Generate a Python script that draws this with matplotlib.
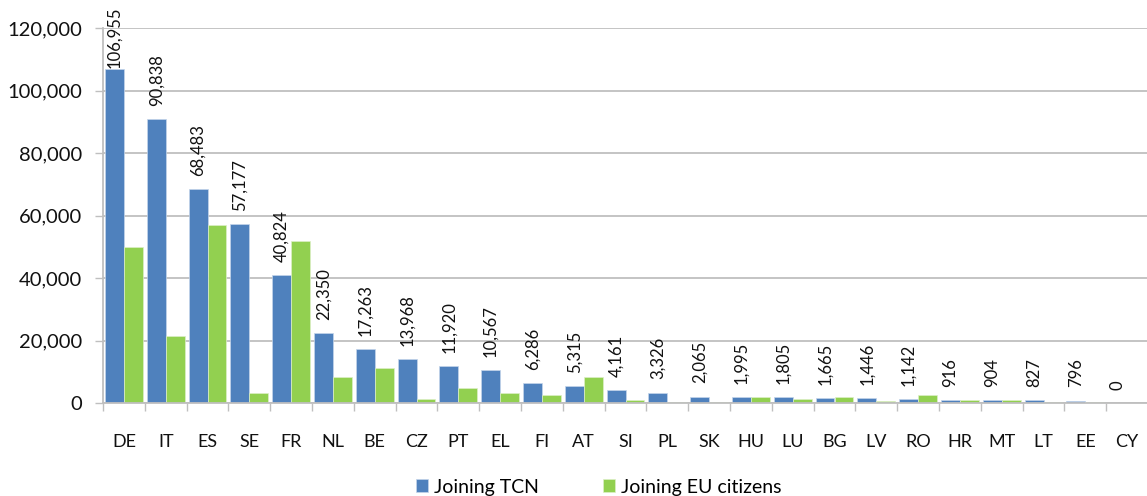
import matplotlib
matplotlib.use('Agg')
import matplotlib.pyplot as plt
import numpy as np
from matplotlib.ticker import FuncFormatter, FixedLocator

countries = ['DE', 'IT', 'ES', 'SE', 'FR', 'NL', 'BE', 'CZ', 'PT', 'EL', 'FI', 'AT', 'SI',
             'PL', 'SK', 'HU', 'LU', 'BG', 'LV', 'RO', 'HR', 'MT', 'LT', 'EE', 'CY']
joining_tcn = [106955, 90838, 68483, 57177, 40824, 22350, 17263, 13968, 11920, 10567, 6286, 5315, 4161,
               3326, 2065, 1995, 1805, 1665, 1446, 1142, 916, 904, 827, 796, 0]
# (no labels for this series)
joining_eu = [50000, 21500, 57000, 3200, 52000, 8400, 11300, 1300, 4900, 3100, 2450, 8400, 1000,
              300, 300, 1900, 1300, 1900, 700, 2450, 900, 900, 350, 350, 0]

BLUE = '#4F81BD'
GREEN = '#92D050'
GRID = '#BFBFBF'

plt.rcParams['font.family'] = ['Lato', 'DejaVu Sans']

fig = plt.figure(figsize=(11.47, 4.96), dpi=100)
ax = fig.add_axes([103 / 1147, 93 / 496, 1045 / 1147, 375 / 496])

x = np.arange(len(countries))
w = 0.45
ax.bar(x - w / 2, joining_tcn, w, color=BLUE, edgecolor='#C5D5EA', linewidth=0.5,
       label='Joining TCN', zorder=3)
ax.bar(x + w / 2, joining_eu, w, color=GREEN, edgecolor='#DDEFC8', linewidth=0.5,
       label='Joining EU citizens', zorder=3)

for xi, v in zip(x, joining_tcn):
    pad = 0.5 if v == max(joining_tcn) else 9.5
    ax.annotate(f'{v:,}', (xi - w / 2, v), xytext=(0, pad), textcoords='offset points',
                rotation=90, ha='center', va='bottom', fontsize=12, color='#111111',
                annotation_clip=False)

ax.set_xlim(-0.5, len(countries) - 0.5)
ax.set_ylim(0, 120000)
ax.set_yticks(np.arange(0, 120001, 20000))
ax.yaxis.set_major_formatter(FuncFormatter(lambda v, p: f'{int(v):,}'))
ax.set_xticks(x)
ax.set_xticklabels(countries)
ax.xaxis.set_minor_locator(FixedLocator(np.arange(-0.5, len(countries), 1.0)))
ax.tick_params(axis='x', which='major', length=0, pad=22, labelsize=13, colors='#111111')
ax.tick_params(axis='x', which='minor', length=6, width=1, color=GRID, direction='out')
ax.tick_params(axis='y', length=6, width=1, color=GRID, pad=9, labelsize=14.5, labelcolor='#111111')

ax.grid(axis='y', color=GRID, linewidth=1.3, zorder=0)
for s in ['top', 'right']:
    ax.spines[s].set_visible(False)
for s in ['left', 'bottom']:
    ax.spines[s].set_color(GRID)
    ax.spines[s].set_linewidth(1.3)
ax.spines['left'].set_zorder(4)
ax.spines['bottom'].set_zorder(4)

fig.legend(loc='center', bbox_to_anchor=(0.522, 0.018), ncol=2, frameon=False, fontsize=14,
           handlelength=0.62, handleheight=0.62, handletextpad=0.3, columnspacing=3.3)

fig.savefig('out.png', dpi=100)
